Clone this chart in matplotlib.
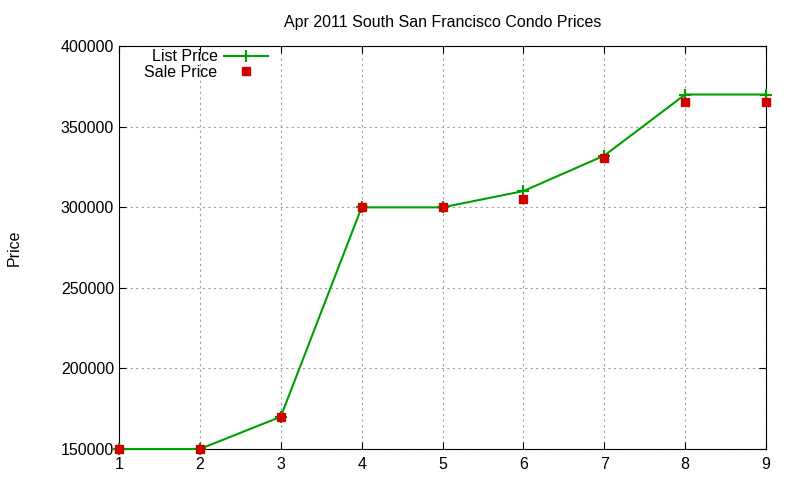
import matplotlib
matplotlib.use('Agg')
import matplotlib.pyplot as plt

plt.rcParams['font.family'] = ['Liberation Sans', 'DejaVu Sans']

x = [1, 2, 3, 4, 5, 6, 7, 8, 9]
list_price = [150000, 150000, 170000, 299900, 299900, 310000, 332000, 369900, 369900]
sale_price = [150000, 150000, 170000, 300000, 300000, 305000, 330500, 365000, 365000]

fig = plt.figure(figsize=(8, 4.8), dpi=100)
ax = fig.add_axes([119 / 800, 1 - 449 / 480, (766 - 119) / 800, (449 - 46) / 480])

ax.plot(x, list_price, color='#00a000', linewidth=1.5, marker='+', markersize=8,
        markeredgewidth=1.5, label='List Price', clip_on=False, zorder=3)
ax.plot(x, sale_price, linestyle='none', marker='s', markersize=6, color='#d00000',
        label='Sale Price', clip_on=False, zorder=4)

ax.set_xlim(1, 9)
ax.set_ylim(150000, 400000)
ax.set_xticks(x)
ax.set_yticks(range(150000, 400001, 50000))
ax.grid(True, linestyle=(0, (2, 3)), color='#a0a0a0', linewidth=0.8)
ax.tick_params(direction='in', labelsize=11.5, length=5, top=True, right=True)
ax.tick_params(axis='x', pad=6)
ax.set_ylabel('Price', fontsize=11.5, labelpad=28)
ax.set_title('Apr 2011 South San Francisco Condo Prices', fontsize=11.5, pad=14)

leg = ax.legend(loc='upper left', bbox_to_anchor=(0.022, 1.02), frameon=False, fontsize=11.5,
                markerfirst=False, handlelength=2.75, handletextpad=0.4,
                labelspacing=0.05, borderaxespad=0.3)
for t in leg.get_texts():
    t.set_ha('right')
leg._legend_box.align = 'right'

fig.savefig('out.png', dpi=100)
